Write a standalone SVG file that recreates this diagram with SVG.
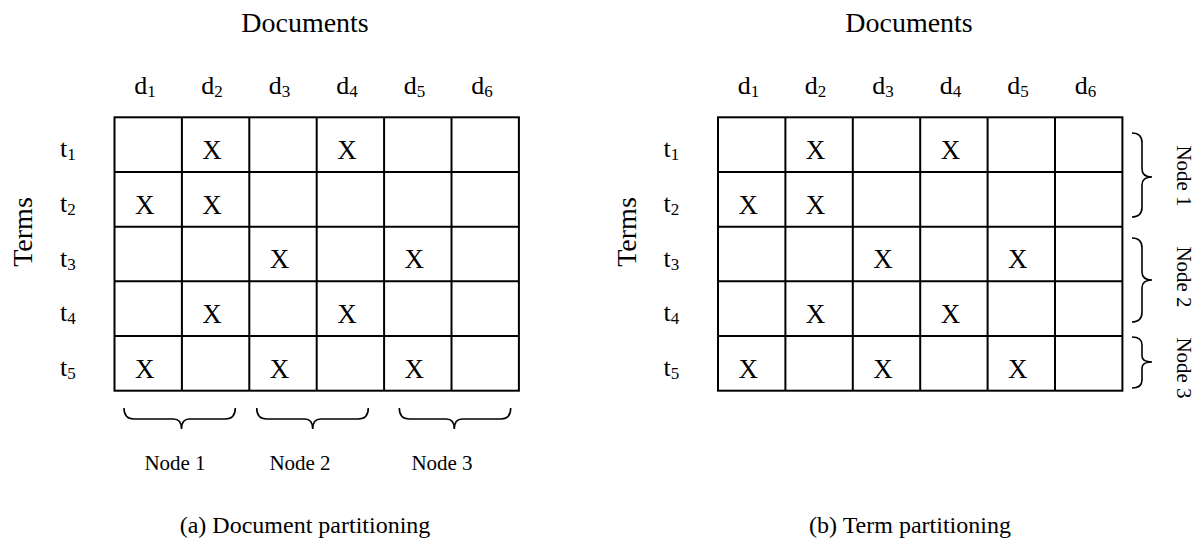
<svg xmlns="http://www.w3.org/2000/svg" width="1198" height="540" viewBox="0 0 1198 540">
<style>
text{font-family:"Liberation Serif","Times New Roman",serif;fill:#000}
.title{font-size:28px;text-anchor:middle}
.lbl{font-size:26px}
.mid{text-anchor:middle}
.sub{font-size:17px}
.x{font-size:27px;text-anchor:middle}
.node{font-size:21px;text-anchor:middle}
.cap{font-size:24px;text-anchor:middle}
.grid{fill:none;stroke:#000;stroke-width:2}
.brace{fill:none;stroke:#000;stroke-width:1.6}
</style>
<rect width="1198" height="540" fill="#fff"/>

<g id="panel-a">
  <text class="title" x="305" y="32">Documents</text>
  <text class="title" x="32" y="232" transform="rotate(-90 32 232)">Terms</text>
  <g id="col-labels-a">
    <text class="lbl mid" x="145" y="93.5">d<tspan class="sub" dy="3">1</tspan></text>
    <text class="lbl mid" x="212" y="93.5">d<tspan class="sub" dy="3">2</tspan></text>
    <text class="lbl mid" x="279.5" y="93.5">d<tspan class="sub" dy="3">3</tspan></text>
    <text class="lbl mid" x="347" y="93.5">d<tspan class="sub" dy="3">4</tspan></text>
    <text class="lbl mid" x="414.5" y="93.5">d<tspan class="sub" dy="3">5</tspan></text>
    <text class="lbl mid" x="482" y="93.5">d<tspan class="sub" dy="3">6</tspan></text>
  </g>
  <g id="row-labels-a">
    <text class="lbl" x="60" y="157">t<tspan class="sub" dy="3">1</tspan></text>
    <text class="lbl" x="60" y="212">t<tspan class="sub" dy="3">2</tspan></text>
    <text class="lbl" x="60" y="266.5">t<tspan class="sub" dy="3">3</tspan></text>
    <text class="lbl" x="60" y="321">t<tspan class="sub" dy="3">4</tspan></text>
    <text class="lbl" x="60" y="376">t<tspan class="sub" dy="3">5</tspan></text>
  </g>
  <g id="matrix-a">
    <rect class="grid" x="114.5" y="117.3" width="404.4" height="273.4"/>
    <path class="grid" d="M181.9 117.3V390.7M249.3 117.3V390.7M316.7 117.3V390.7M384.1 117.3V390.7M451.5 117.3V390.7M114.5 172H518.9M114.5 226.7H518.9M114.5 281.3H518.9M114.5 336H518.9"/>
    <text class="x" x="212.1" y="159">X</text>
    <text class="x" x="346.9" y="159">X</text>
    <text class="x" x="144.7" y="213.7">X</text>
    <text class="x" x="212.1" y="213.7">X</text>
    <text class="x" x="279.5" y="268.4">X</text>
    <text class="x" x="414.3" y="268.4">X</text>
    <text class="x" x="212.1" y="323">X</text>
    <text class="x" x="346.9" y="323">X</text>
    <text class="x" x="144.7" y="377.7">X</text>
    <text class="x" x="279.5" y="377.7">X</text>
    <text class="x" x="414.3" y="377.7">X</text>
  </g>
  <g id="braces-a">
    <path class="brace" d="M124 408Q124 419 134 419L173.5 419Q181.5 419 181.5 429Q181.5 419 189.5 419L225.3 419Q235.3 419 235.3 408"/>
    <path class="brace" d="M256.7 408Q256.7 419 266.7 419L304.7 419Q312.7 419 312.7 429Q312.7 419 320.7 419L358.3 419Q368.3 419 368.3 408"/>
    <path class="brace" d="M399.3 408Q399.3 419 409.3 419L446.3 419Q454.3 419 454.3 429Q454.3 419 462.3 419L500.7 419Q510.7 419 510.7 408"/>
  </g>
  <g id="node-labels-a">
    <text class="node" x="175" y="469.5">Node 1</text>
    <text class="node" x="300" y="469.5">Node 2</text>
    <text class="node" x="442" y="469.5">Node 3</text>
  </g>
  <text class="cap" x="305" y="533">(a) Document partitioning</text>
</g>

<g id="panel-b">
  <text class="title" x="909" y="32">Documents</text>
  <text class="title" x="636" y="232" transform="rotate(-90 636 232)">Terms</text>
  <g id="col-labels-b">
    <text class="lbl mid" x="748.5" y="93.5">d<tspan class="sub" dy="3">1</tspan></text>
    <text class="lbl mid" x="815.5" y="93.5">d<tspan class="sub" dy="3">2</tspan></text>
    <text class="lbl mid" x="883" y="93.5">d<tspan class="sub" dy="3">3</tspan></text>
    <text class="lbl mid" x="950.5" y="93.5">d<tspan class="sub" dy="3">4</tspan></text>
    <text class="lbl mid" x="1018" y="93.5">d<tspan class="sub" dy="3">5</tspan></text>
    <text class="lbl mid" x="1085.5" y="93.5">d<tspan class="sub" dy="3">6</tspan></text>
  </g>
  <g id="row-labels-b">
    <text class="lbl" x="663.5" y="157">t<tspan class="sub" dy="3">1</tspan></text>
    <text class="lbl" x="663.5" y="212">t<tspan class="sub" dy="3">2</tspan></text>
    <text class="lbl" x="663.5" y="266.5">t<tspan class="sub" dy="3">3</tspan></text>
    <text class="lbl" x="663.5" y="321">t<tspan class="sub" dy="3">4</tspan></text>
    <text class="lbl" x="663.5" y="376">t<tspan class="sub" dy="3">5</tspan></text>
  </g>
  <g id="matrix-b">
    <rect class="grid" x="718" y="117.3" width="404.4" height="273.4"/>
    <path class="grid" d="M785.4 117.3V390.7M852.8 117.3V390.7M920.2 117.3V390.7M987.6 117.3V390.7M1055 117.3V390.7M718 172H1122.4M718 226.7H1122.4M718 281.3H1122.4M718 336H1122.4"/>
    <text class="x" x="815.6" y="159">X</text>
    <text class="x" x="950.4" y="159">X</text>
    <text class="x" x="748.2" y="213.7">X</text>
    <text class="x" x="815.6" y="213.7">X</text>
    <text class="x" x="883" y="268.4">X</text>
    <text class="x" x="1017.8" y="268.4">X</text>
    <text class="x" x="815.6" y="323">X</text>
    <text class="x" x="950.4" y="323">X</text>
    <text class="x" x="748.2" y="377.7">X</text>
    <text class="x" x="883" y="377.7">X</text>
    <text class="x" x="1017.8" y="377.7">X</text>
  </g>
  <g id="braces-b">
    <path class="brace" d="M1132 133Q1142 133 1142 143L1142 169Q1142 177 1152 177Q1142 177 1142 185L1142 207Q1142 217 1132 217"/>
    <path class="brace" d="M1132 238Q1142 238 1142 248L1142 272Q1142 280 1152 280Q1142 280 1142 288L1142 312Q1142 322 1132 322"/>
    <path class="brace" d="M1132 337Q1142 337 1142 345L1142 356Q1142 362 1152 362Q1142 362 1142 368L1142 380Q1142 388 1132 388"/>
  </g>
  <g id="node-labels-b">
    <text class="node" x="1177" y="176" transform="rotate(90 1177 176)">Node 1</text>
    <text class="node" x="1177" y="277" transform="rotate(90 1177 277)">Node 2</text>
    <text class="node" x="1177" y="368" transform="rotate(90 1177 368)">Node 3</text>
  </g>
  <text class="cap" x="910" y="533">(b) Term partitioning</text>
</g>
</svg>
